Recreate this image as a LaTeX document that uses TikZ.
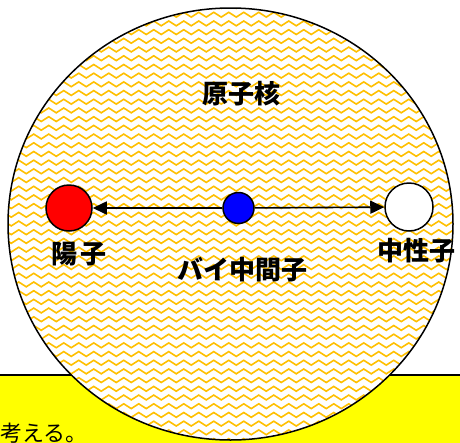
\documentclass[tikz,border=0pt]{standalone}
\usepackage{fontspec}
\newfontfamily\jp{Noto Sans CJK JP}
\usetikzlibrary{arrows.meta,decorations.pathmorphing}
\definecolor{patorange}{HTML}{FFC000}
\definecolor{notey}{HTML}{FFFF00}
\begin{document}
\begin{tikzpicture}[x=1pt,y=-1pt,
  particle/.style={circle,draw=black,line width=1.5pt,inner sep=0pt},
  lbl/.style={font=\jp\bfseries\fontsize{26}{26}\selectfont,inner sep=0pt},
  link/.style={line width=1.6pt,-{Triangle[length=14pt,width=13pt]}},
  wavy/.style={draw=patorange,line width=1.6pt,decorate,decoration={zigzag,segment length=15pt,amplitude=2.4pt}}]
\useasboundingbox (0,0) rectangle (460,442);
\fill[notey] (-5,375) rectangle (465,450);
\draw[line width=1.5pt] (-5,375) -- (465,375);
\node[anchor=base west,inner sep=0pt,font=\jp\fontsize{22}{22}\selectfont] (note) at (0,441) {考える。};
\fill[white] (230.5,224) ellipse [x radius=222.5pt, y radius=216pt];
\begin{scope}
  \clip (230.5,224) ellipse [x radius=222.5pt, y radius=216pt];
  \foreach \i in {0,...,51} \draw[wavy] (0,{6+\i*8.7}) -- (475,{6+\i*8.7});
\end{scope}
\draw[line width=1.5pt] (230.5,224) ellipse [x radius=222.5pt, y radius=216pt];
\node[lbl] (nucleus) at (241.5,93.5) {原子核};
\node[particle,fill=red,minimum size=46pt] (proton) at (69,208) {};
\node[particle,fill=white,minimum size=48pt] (neutron) at (409,207) {};
\node[particle,fill=blue,minimum size=31pt] (pion) at (238.5,208) {};
\draw[link] (pion) -- (proton);
\draw[link] (pion) -- (neutron);
\node[lbl] (plabel) at (79,254) {陽\hspace{3pt}子};
\node[lbl] (nlabel) at (416,251) {中性子};
\node[lbl] (pilabel) at (242,270) {バイ中間子};
\end{tikzpicture}
\end{document}
